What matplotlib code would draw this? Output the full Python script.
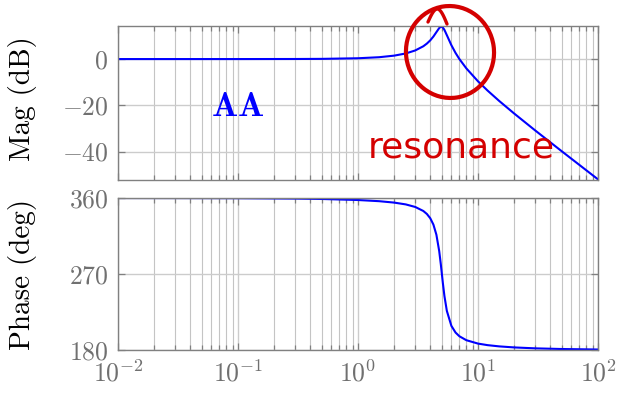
import numpy as np
import matplotlib
matplotlib.use('Agg')
import matplotlib.pyplot as plt
from matplotlib.patches import Ellipse
from matplotlib.ticker import LogLocator, NullFormatter

# frequency samples (rad/s) and values
freq = [0.01, 0.03, 0.1, 0.3, 0.5, 1.0, 1.5, 2.0, 2.5, 3.0, 3.5, 3.75, 4.0, 4.25,
        4.5, 4.75, 4.9, 5.0, 5.1, 5.25, 5.5, 6.0, 6.5, 7.0, 8.0, 10.0, 12.0,
        15.0, 20.0, 30.0, 50.0, 100.0]
mag_db = [0.0, 0.0, 0.003, 0.031, 0.086, 0.35, 0.80, 1.48, 2.42, 3.73, 5.53, 6.70,
          8.09, 9.75, 11.64, 13.41, 13.98, 13.98, 13.64, 12.63, 10.34, 6.0, 2.65,
          0.0, -4.04, -9.62, -13.60, -18.09, -23.53, -30.89, -39.91, -52.02]
phase_deg = [359.98, 359.93, 359.77, 359.31, 358.84, 357.61, 356.23, 354.56, 352.41,
             349.38, 344.65, 341.08, 336.04, 328.51, 316.55, 297.17, 281.42, 270.0,
             258.8, 243.98, 226.33, 208.61, 200.65, 196.26, 191.59, 187.59, 185.76,
             184.29, 183.05, 181.96, 181.16, 180.57]

mag_ticks = [-40, -20, 0]
phase_ticks = [180, 270, 360]

plt.rcParams['font.family'] = 'serif'
plt.rcParams['font.serif'] = ['cmr10']
plt.rcParams['mathtext.fontset'] = 'cm'
plt.rcParams['axes.formatter.use_mathtext'] = True

W, H = 618, 394
fig = plt.figure(figsize=(W / 100, H / 100), dpi=100)
ax1 = fig.add_axes([118 / W, 1 - 180 / H, 480 / W, 154 / H])
ax2 = fig.add_axes([118 / W, 1 - 350 / H, 480 / W, 152 / H])

blue = '#0000ff'
for ax in (ax1, ax2):
    ax.set_xscale('log')
    ax.set_xlim(0.01, 100)
    ax.xaxis.set_major_locator(LogLocator(base=10, numticks=10))
    ax.xaxis.set_minor_locator(LogLocator(base=10, subs=np.arange(2, 10), numticks=20))
    ax.xaxis.set_minor_formatter(NullFormatter())
    ax.grid(True, which='major', color='#cccccc', lw=1.0)
    ax.grid(True, which='minor', axis='x', color='#c4c4c4', lw=0.8)
    ax.set_axisbelow(True)
    ax.tick_params(which='both', direction='in', top=True, right=True,
                   color='#808080', labelcolor='#707070', labelsize=18.5, pad=7)
    ax.tick_params(which='major', length=5, width=0.9)
    ax.tick_params(which='minor', length=3.5, width=0.9)
    for sp in ax.spines.values():
        sp.set_color('#808080')
        sp.set_linewidth(1.0)

ax1.plot(freq, mag_db, color=blue, lw=1.5)
ax1.set_ylim(-52.3, 14.3)
ax1.set_yticks(mag_ticks)
ax1.tick_params(labelbottom=False)
ax1.set_ylabel('Mag (dB)', fontsize=21)
ax1.yaxis.set_label_coords(-0.169, 0.53)
ax1.text(0.1, -21, r'$\mathbf{AA}$', color=blue, fontsize=25, ha='center', va='center')

ax2.plot(freq, phase_deg, color=blue, lw=1.5)
ax2.set_ylim(180, 360)
ax2.set_yticks(phase_ticks)
ax2.set_ylabel('Phase (deg)', fontsize=21)
ax2.yaxis.set_label_coords(-0.169, 0.5)

# handwritten red annotation, drawn in pixel coordinates over the figure
red = '#d40000'
ov = fig.add_axes([0, 0, 1, 1])
ov.set_xlim(0, W)
ov.set_ylim(H, 0)
ov.axis('off')
circ = Ellipse((450, 52), 88, 92, angle=-8, fill=False, ec=red, lw=3.0)
ov.add_patch(circ)
tt = np.linspace(0, 1, 30)
ov.plot(428 + 19 * tt, 22 - 14 * np.sin(np.pi * tt) + 2 * tt, color=red, lw=2.4,
        solid_capstyle='round')
ov.text(461, 157, 'resonance', color=red, fontsize=26, family='DejaVu Sans',
        ha='center', va='baseline')

fig.savefig('out.png', dpi=100)
